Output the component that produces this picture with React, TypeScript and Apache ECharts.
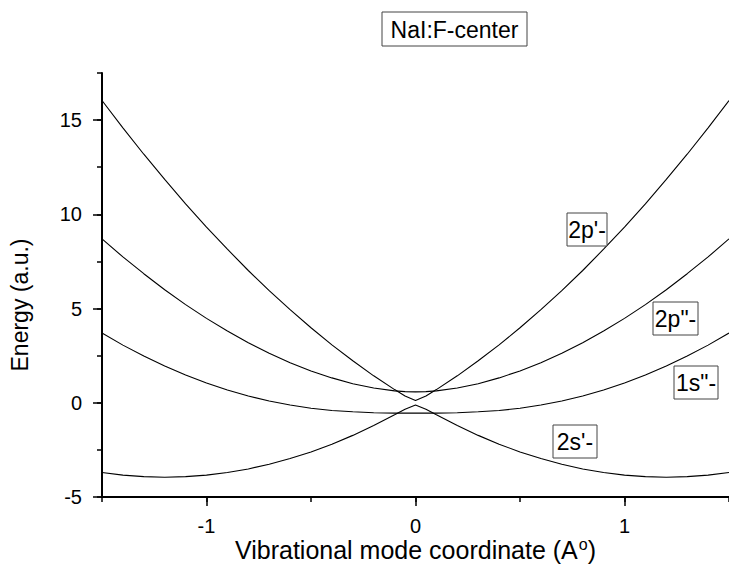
import React, { useEffect, useRef } from "react";
import * as echarts from "echarts";

// Vibrational mode coordinate values (A°)
const coords = [
  -1.5, -1.4, -1.3, -1.2, -1.1, -1.0, -0.9, -0.8, -0.7, -0.6, -0.5, -0.4, -0.3, -0.2, -0.1, -0.05,
  0,
  0.05, 0.1, 0.2, 0.3, 0.4, 0.5, 0.6, 0.7, 0.8, 0.9, 1.0, 1.1, 1.2, 1.3, 1.4, 1.5,
];

// Energy (a.u.) of each level
const level2pPrime = [
  16.04, 14.59, 13.19, 11.85, 10.56, 9.32, 8.15, 7.02, 5.95, 4.94, 3.98, 3.07, 2.23, 1.43, 0.7, 0.36,
  0.12,
  0.36, 0.7, 1.43, 2.23, 3.07, 3.98, 4.94, 5.95, 7.02, 8.15, 9.32, 10.56, 11.85, 13.19, 14.59, 16.04,
];
const level2pDouble = [
  8.7, 7.74, 6.85, 6.0, 5.21, 4.48, 3.81, 3.19, 2.63, 2.13, 1.69, 1.32, 1.01, 0.78, 0.63, 0.59,
  0.58,
  0.59, 0.63, 0.78, 1.01, 1.32, 1.69, 2.13, 2.63, 3.19, 3.81, 4.48, 5.21, 6.0, 6.85, 7.74, 8.7,
];
const level1sDouble = [
  3.7, 3.06, 2.48, 1.95, 1.47, 1.05, 0.68, 0.36, 0.09, -0.12, -0.29, -0.41, -0.48, -0.53, -0.55, -0.55,
  -0.55,
  -0.55, -0.55, -0.53, -0.48, -0.41, -0.29, -0.12, 0.09, 0.36, 0.68, 1.05, 1.47, 1.95, 2.48, 3.06, 3.7,
];
const level2sPrime = [
  -3.7, -3.84, -3.92, -3.95, -3.92, -3.84, -3.7, -3.51, -3.26, -2.96, -2.61, -2.2, -1.73, -1.21, -0.64, -0.34,
  -0.12,
  -0.34, -0.64, -1.21, -1.73, -2.2, -2.61, -2.96, -3.26, -3.51, -3.7, -3.84, -3.92, -3.95, -3.92, -3.84, -3.7,
];

const xMajorTicks = [-1, 0, 1];
const yMajorTicks = [-5, 0, 5, 10, 15];

const chartTitle = "NaI:F-center";
const yTitle = "Energy (a.u.)";
const levelLabels = ["2p'-", '2p"-', '1s"-', "2s'-"];

const FONT = "'Liberation Sans', Arial, Helvetica, sans-serif";

export default function App() {
  const ref = useRef<HTMLDivElement>(null);

  useEffect(() => {
    if (!ref.current) return;
    const chart = echarts.init(ref.current, null, { renderer: "svg" });

    const mk = (vals: number[]) => coords.map((x, i) => [x, vals[i]]);
    const levels = [level2pPrime, level2pDouble, level1sDouble, level2sPrime];

    const boxes = [
      { x: 567, y: 213, w: 40, h: 33 },
      { x: 653, y: 302, w: 45, h: 33 },
      { x: 674, y: 366, w: 44, h: 33 },
      { x: 553, y: 425, w: 44, h: 33 },
    ];

    const textStyle = (t: string, size: number) => ({
      text: t,
      fill: "#000",
      font: `${size}px ${FONT}`,
      align: "center",
      verticalAlign: "middle",
      textAlign: "center",
      textVerticalAlign: "middle",
    });

    const graphic: any[] = [
      {
        type: "rect",
        shape: { x: 382, y: 12, width: 145, height: 34 },
        style: { fill: "#fff", stroke: "#444", lineWidth: 1 },
        z: 10,
      },
      { type: "text", x: 454.5, y: 29.5, style: textStyle(chartTitle, 23), z: 11 },
      {
        type: "text",
        x: 20,
        y: 305,
        rotation: Math.PI / 2,
        style: textStyle(yTitle, 23),
        z: 11,
      },
    ];
    levelLabels.forEach((t, i) => {
      const b = boxes[i];
      graphic.push({
        type: "rect",
        shape: { x: b.x, y: b.y, width: b.w, height: b.h },
        style: { fill: "#fff", stroke: "#444", lineWidth: 1 },
        z: 10,
      });
      graphic.push({
        type: "text",
        x: b.x + b.w / 2,
        y: b.y + b.h / 2 + 0.5,
        style: textStyle(t, 23),
        z: 11,
      });
    });

    const axisLineStyle = { color: "#000", width: 2 };

    chart.setOption({
      animation: false,
      backgroundColor: "#fff",
      grid: { left: 102, top: 73, width: 631, height: 424, containLabel: false },
      xAxis: [
        {
          type: "value",
          position: "bottom",
          min: -1.5,
          max: 1.5,
          interval: 0.5,
          axisLine: { show: true, onZero: false, lineStyle: axisLineStyle },
          axisTick: { show: true, length: 5, lineStyle: { color: "#000", width: 1.5 } },
          axisLabel: { show: false },
          splitLine: { show: false },
          name: "Vibrational mode coordinate (A{sup|o})",
          nameLocation: "middle",
          nameGap: 39,
          nameTextStyle: {
            fontFamily: FONT,
            fontSize: 25,
            color: "#000",
            rich: {
              sup: { fontFamily: FONT, fontSize: 16, color: "#000", padding: [0, 0, 12, 1] },
            },
          },
        },
        {
          type: "value",
          position: "bottom",
          min: -1.5,
          max: 1.5,
          axisLine: { show: false, onZero: false },
          axisTick: {
            show: true,
            customValues: xMajorTicks,
            length: 9,
            lineStyle: { color: "#000", width: 1.5 },
          },
          axisLabel: {
            show: true,
            customValues: xMajorTicks,
            margin: 19,
            fontFamily: FONT,
            fontSize: 20,
            color: "#000",
          },
          splitLine: { show: false },
        },
      ],
      yAxis: [
        {
          type: "value",
          position: "left",
          min: -5,
          max: 17.5,
          interval: 2.5,
          axisLine: { show: true, onZero: false, lineStyle: axisLineStyle },
          axisTick: { show: true, length: 5, lineStyle: { color: "#000", width: 1.5 } },
          axisLabel: { show: false },
          splitLine: { show: false },
        },
        {
          type: "value",
          position: "left",
          min: -5,
          max: 17.5,
          axisLine: { show: false, onZero: false },
          axisTick: {
            show: true,
            customValues: yMajorTicks,
            length: 9,
            lineStyle: { color: "#000", width: 1.5 },
          },
          axisLabel: {
            show: true,
            customValues: yMajorTicks,
            margin: 20,
            fontFamily: FONT,
            fontSize: 20,
            color: "#000",
          },
          splitLine: { show: false },
        },
      ],
      series: levels.map((vals, i) => ({
        type: "line",
        name: levelLabels[i],
        xAxisIndex: 0,
        yAxisIndex: 0,
        data: mk(vals),
        showSymbol: false,
        symbol: "none",
        smooth: false,
        clip: true,
        lineStyle: { color: "#000", width: 1.1 },
      })),
      graphic,
    });

    return () => chart.dispose();
  }, []);

  return (
    <div
      ref={ref}
      style={{ position: "absolute", left: 0, top: 0, width: 729, height: 568, background: "#fff" }}
    />
  );
}
